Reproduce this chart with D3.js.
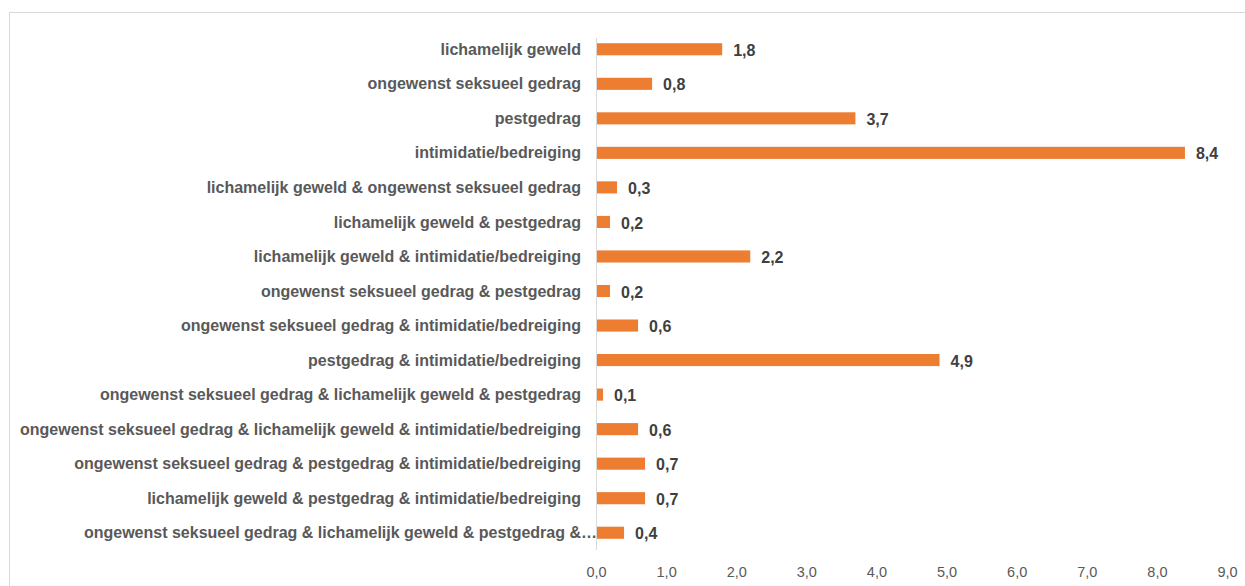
<!DOCTYPE html>
<meta charset="utf-8">
<style>
body { margin: 0; background: #fff; }
.cat { font-family: "Liberation Sans", Arial, sans-serif; font-weight: bold; font-size: 16px; fill: #595959; }
.val { font-family: "Liberation Sans", Arial, sans-serif; font-weight: bold; font-size: 16px; fill: #404040; }
.axis text { font-family: "Liberation Sans", Arial, sans-serif; font-size: 14.5px; fill: #595959; }
.axis path, .axis line { display: none; }
</style>
<svg width="1245" height="586"></svg>
<script src="https://cdn.jsdelivr.net/npm/d3@7"></script>
<script>

var categories = [
  "lichamelijk geweld",
  "ongewenst seksueel gedrag",
  "pestgedrag",
  "intimidatie/bedreiging",
  "lichamelijk geweld & ongewenst seksueel gedrag",
  "lichamelijk geweld & pestgedrag",
  "lichamelijk geweld & intimidatie/bedreiging",
  "ongewenst seksueel gedrag & pestgedrag",
  "ongewenst seksueel gedrag & intimidatie/bedreiging",
  "pestgedrag & intimidatie/bedreiging",
  "ongewenst seksueel gedrag & lichamelijk geweld & pestgedrag",
  "ongewenst seksueel gedrag & lichamelijk geweld & intimidatie/bedreiging",
  "ongewenst seksueel gedrag & pestgedrag & intimidatie/bedreiging",
  "lichamelijk geweld & pestgedrag & intimidatie/bedreiging",
  "ongewenst seksueel gedrag & lichamelijk geweld & pestgedrag &…"
];
var values = [1.8, 0.8, 3.7, 8.4, 0.3, 0.2, 2.2, 0.2, 0.6, 4.9, 0.1, 0.6, 0.7, 0.7, 0.4];
var ticks = [0, 1, 2, 3, 4, 5, 6, 7, 8, 9];

var svg = d3.select("svg");

var nl = d3.formatLocale({decimal: ",", thousands: ".", grouping: [3], currency: ["€", ""]});
var fmt = nl.format(".1f");

// chart frame
svg.append("rect")
    .attr("x", 9.5).attr("y", 12.5)
    .attr("width", 1260).attr("height", 600)
    .attr("fill", "none").attr("stroke", "#d9d9d9");

var x = d3.scaleLinear().domain([0, 9]).range([596, 1227]);
var y = d3.scaleBand().domain(categories).range([32, 550])
    .paddingInner(0.65).paddingOuter(0.325);

var axis = svg.append("g")
    .attr("class", "axis")
    .attr("transform", "translate(0,560)")
    .call(d3.axisBottom(x).tickValues(ticks).tickFormat(fmt).tickSize(0).tickPadding(0));
axis.selectAll("text").attr("dy", null).attr("y", 16.5);

svg.selectAll(".bar").data(values).enter().append("rect")
    .attr("class", "bar")
    .attr("x", x(0))
    .attr("y", function(d, i) { return y(categories[i]); })
    .attr("width", function(d) { return x(d) - x(0); })
    .attr("height", y.bandwidth())
    .attr("fill", "#ed7d31");

// zero line
svg.append("line")
    .attr("x1", x(0) + 0.5).attr("x2", x(0) + 0.5)
    .attr("y1", 38).attr("y2", 550)
    .attr("stroke", "#d9d9d9");

// truncated labels run up to the axis line
svg.selectAll(".cat").data(categories).enter().append("text")
    .attr("class", "cat")
    .attr("x", function(d) { return d.slice(-1) == "…" ? 597 : 581; })
    .attr("y", function(d) { return y(d) + y.bandwidth() / 2; })
    .attr("dy", "0.35em")
    .attr("text-anchor", "end")
    .text(function(d) { return d; });

svg.selectAll(".val").data(values).enter().append("text")
    .attr("class", "val")
    .attr("x", function(d) { return x(d) + 11; })
    .attr("y", function(d, i) { return y(categories[i]) + y.bandwidth() / 2 + 1; })
    .attr("dy", "0.35em")
    .text(function(d) { return fmt(d); });

</script>
